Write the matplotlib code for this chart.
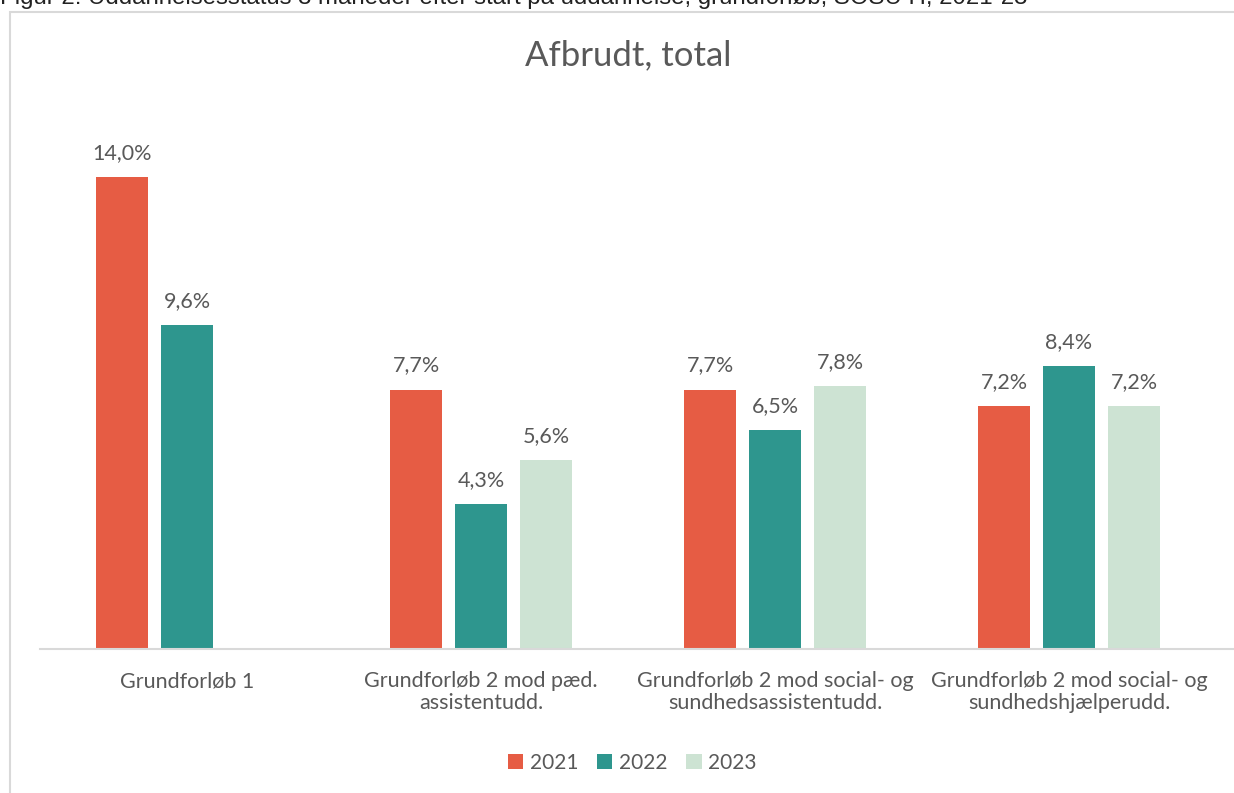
import matplotlib
matplotlib.use("Agg")
import matplotlib.pyplot as plt
import matplotlib.patches as mpatches
from matplotlib.lines import Line2D
import numpy as np

categories = ["Grundforløb 1",
              "Grundforløb 2 mod pæd.\nassistentudd.",
              "Grundforløb 2 mod social- og\nsundhedsassistentudd.",
              "Grundforløb 2 mod social- og\nsundhedshjælperudd."]
years = ["2021", "2022", "2023"]
v2021 = [14.0, 7.7, 7.7, 7.2]
v2022 = [9.6, 4.3, 6.5, 8.4]
v2023 = [np.nan, 5.6, 7.8, 7.2]
series = [v2021, v2022, v2023]
colors = ["#E65C44", "#2E968E", "#CDE3D3"]

W, H = 1234, 793
fig = plt.figure(figsize=(W / 100, H / 100), dpi=100)
plt.rcParams['font.family'] = ['Lato', 'DejaVu Sans']
txt = "#595959"

# outer chart frame
fig.patches.append(mpatches.Rectangle((10 / W, -0.1), 1.2, 1 - 12 / H + 0.1,
                                      transform=fig.transFigure, fill=False,
                                      edgecolor="#D9D9D9", linewidth=1.5))
# clipped caption at top
fig.text(0, 1 + 3 / H, "Figur 2: Uddannelsesstatus 3 måneder efter start på uddannelse, grundforløb, SOSU H, 2021-23",
         family=['Liberation Sans'], fontsize=17.3, color="#222222", va='center', ha='left')

ax_left, ax_right = 40, 1216
ax_bottom, ax_top = 649, 100
ax = fig.add_axes([ax_left / W, 1 - ax_bottom / H, (ax_right - ax_left) / W, (ax_bottom - ax_top) / H])
ymax = (ax_bottom - ax_top) / 33.7
ax.set_ylim(0, ymax)
ax.set_xlim(-0.5, len(categories) - 0.5)

x = np.arange(len(categories))
step = 65 / 294
bw = 52 / 294
for i, (vals, c, yr) in enumerate(zip(series, colors, years)):
    pos = x + (i - 1) * step
    ax.bar(pos, vals, width=bw, color=c, label=yr, zorder=2)
    for p, v in zip(pos, vals):
        if not np.isnan(v):
            ax.text(p, v + 0.72, f"{v:.1f}%".replace(".", ","), ha='center', va='center',
                    fontsize=15.5, color=txt)

for s in ["top", "right", "left", "bottom"]:
    ax.spines[s].set_visible(False)
fig.add_artist(Line2D([ax_left / W, 1.0], [1 - ax_bottom / H, 1 - ax_bottom / H],
                      transform=fig.transFigure, color="#D9D9D9", linewidth=1.5))
ax.set_yticks([])
ax.set_xticks(x)
ax.set_xticklabels(categories, fontsize=15.5, color=txt, linespacing=1.1)
ax.tick_params(axis='x', length=0, pad=16)

fig.text(628 / W, 1 - 55 / H, "Afbrudt, total", ha='center', va='center', fontsize=25, color=txt)

leg = fig.legend(*ax.get_legend_handles_labels(), loc='center', bbox_to_anchor=(632 / W, 1 - 763 / H),
                 ncol=3, frameon=False, fontsize=15, handlelength=0.75, handleheight=0.75,
                 columnspacing=0.9, handletextpad=0.3)
for t in leg.get_texts():
    t.set_color(txt)

fig.savefig("out.png", dpi=100)
